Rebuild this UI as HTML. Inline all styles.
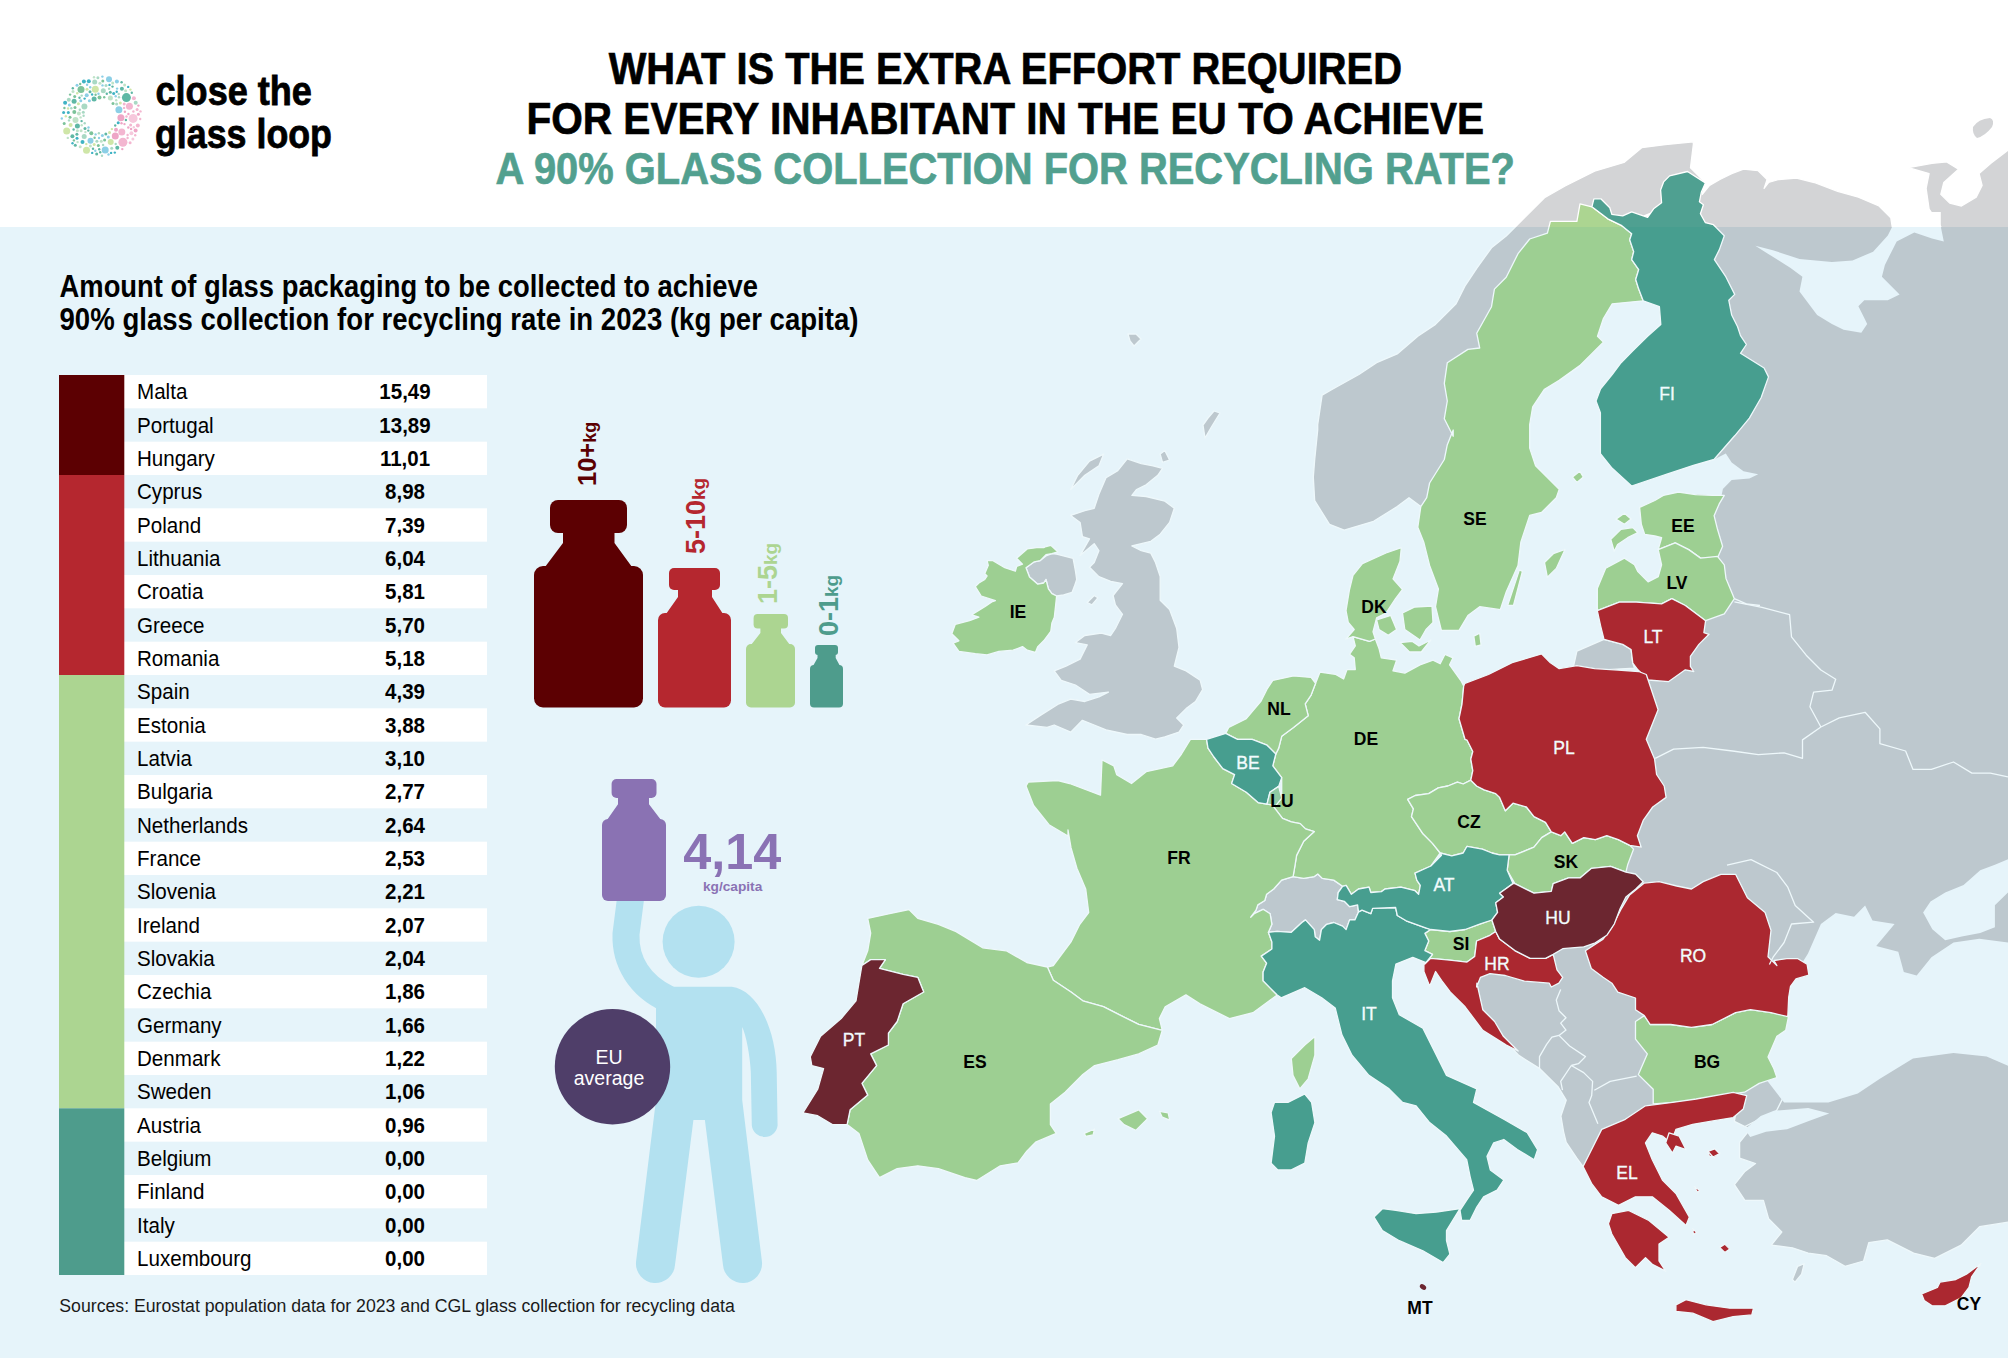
<!DOCTYPE html>
<html><head><meta charset="utf-8"><title>Close the glass loop</title>
<style>
html,body{margin:0;padding:0}
body{width:2008px;height:1358px;position:relative;overflow:hidden;background:#e6f4fa;font-family:"Liberation Sans",sans-serif}
svg{position:absolute;left:0;top:0}
text{font-family:"Liberation Sans",sans-serif}
.lb{font-size:17.5px;font-weight:bold;fill:#000;text-anchor:middle}
.lw{font-size:17.5px;fill:#f2fbfd;stroke:#f2fbfd;stroke-width:0.35px;text-anchor:middle}
</style></head><body>
<svg width="2008" height="1358" viewBox="0 0 2008 1358">
<defs><path id="GRAY" d="M1420.8 506.6 L1409.0 497.7 L1397.2 506.6 L1373.6 521.3 L1344.2 530.1 L1329.5 524.3 L1314.7 500.7 L1313.3 477.1 L1314.7 459.5 L1317.7 430.0 L1317.7 424.6 L1322.1 395.1 L1332.4 389.2 L1358.9 374.5 L1376.6 362.7 L1397.2 353.9 L1417.8 336.2 L1435.5 324.4 L1456.1 303.8 L1464.9 286.1 L1476.7 268.4 L1491.5 247.8 L1506.2 236.0 L1523.9 218.4 L1544.5 197.7 L1565.1 186.0 L1594.6 171.2 L1624.0 162.4 L1641.7 147.7 L1665.2 144.7 L1693.2 141.8 L1693.4 144.2 L1690.5 167.7 L1705.2 182.5 L1702.3 194.3 L1709.6 185.4 L1719.9 179.5 L1731.7 173.6 L1743.5 169.2 L1758.2 170.7 L1767.1 179.5 L1764.1 188.4 L1768.5 182.5 L1778.8 179.5 L1796.5 178.1 L1814.2 182.5 L1837.7 191.3 L1858.4 197.2 L1879.0 206.0 L1890.8 217.8 L1892.2 226.7 L1940.8 226.7 L1929.1 209.0 L1926.1 188.4 L1929.1 173.6 L1908.4 167.7 L1932.0 163.3 L1946.7 161.9 L1958.5 169.2 L1943.8 182.5 L1940.8 194.3 L1949.7 203.1 L1961.5 206.0 L1976.2 197.2 L1982.1 185.4 L1979.1 173.6 L1990.9 163.3 L2008.0 150.1 L2015.0 150.0 L2015.0 1221.0 L1979.6 1226.7 L1961.1 1245.2 L1934.7 1258.4 L1913.6 1253.1 L1887.3 1239.9 L1868.8 1242.6 L1863.6 1261.0 L1845.1 1266.3 L1826.6 1255.7 L1808.2 1253.1 L1792.4 1247.8 L1771.3 1245.2 L1781.8 1232.0 L1768.6 1218.8 L1763.4 1200.4 L1744.9 1200.4 L1734.4 1184.6 L1744.9 1171.4 L1755.5 1163.5 L1739.6 1158.2 L1739.6 1142.4 L1750.2 1129.2 L1744.9 1126.5 L1734.4 1121.3 L1737.0 1105.5 L1689.5 1110.7 L1640.0 1126.6 L1613.7 1147.7 L1595.2 1163.5 L1584.7 1168.8 L1576.8 1158.2 L1566.2 1142.4 L1563.6 1131.8 L1560.9 1116.0 L1566.2 1100.2 L1558.3 1087.0 L1539.8 1068.6 L1518.8 1055.4 L1509.3 1045.1 L1491.6 1024.5 L1476.9 1003.9 L1471.0 986.2 L1482.8 971.5 L1494.6 944.9 L1558.9 912.5 L1558.9 859.5 L1638.7 695.1 L1653.5 650.9 L1696.4 577.3 L1696.4 518.4 L1696.4 474.2 L1666.9 444.7 L1681.6 306.2 L1675.7 203.1 L1565.1 247.8 L1476.7 395.1 L1447.3 488.9Z"/><path id="KALININGRAD" d="M1573.5 666.4 L1576.9 651.2 L1604.0 639.3 L1622.7 644.4 L1631.1 649.5 L1632.8 663.1 L1634.5 668.1 L1604.0 669.8Z"/><path id="UK" d="M1127.2 458.8 L1141.3 463.6 L1153.1 465.9 L1162.5 468.3 L1157.8 475.3 L1146.1 484.8 L1136.6 489.5 L1131.9 495.4 L1146.1 496.5 L1164.9 501.2 L1174.3 508.3 L1169.6 522.4 L1160.2 534.2 L1150.8 541.3 L1141.3 543.7 L1131.9 546.0 L1141.3 550.7 L1150.8 553.1 L1155.5 562.5 L1160.2 576.6 L1160.2 600.2 L1169.6 609.6 L1176.7 628.5 L1179.0 647.3 L1174.3 666.1 L1186.1 670.9 L1200.2 680.3 L1202.6 689.7 L1195.5 701.5 L1186.1 708.6 L1176.7 718.0 L1183.7 725.0 L1179.0 732.1 L1164.9 736.8 L1155.5 739.2 L1141.3 734.5 L1127.2 734.5 L1106.0 729.8 L1094.2 725.0 L1082.4 720.3 L1070.7 732.1 L1054.2 725.0 L1047.1 727.4 L1025.9 725.0 L1040.0 715.6 L1058.9 703.8 L1070.7 699.1 L1084.8 701.5 L1098.9 696.8 L1108.4 692.1 L1089.5 694.4 L1075.4 685.0 L1061.2 680.3 L1054.2 670.9 L1066.0 666.1 L1080.1 659.1 L1087.2 644.9 L1075.4 642.6 L1084.8 635.5 L1101.3 633.2 L1110.7 635.5 L1115.4 628.5 L1122.5 614.3 L1115.4 604.9 L1113.1 595.5 L1122.5 583.7 L1110.7 581.3 L1098.9 576.6 L1089.5 567.2 L1094.2 562.5 L1098.9 550.7 L1094.2 543.7 L1080.1 555.4 L1089.5 538.9 L1082.4 536.6 L1080.1 522.4 L1070.7 515.4 L1084.8 510.7 L1094.2 508.3 L1098.9 494.2 L1106.0 477.7 L1117.8 470.6Z"/><path id="HEBRIDES" d="M1070.7 489.5 L1077.7 475.3 L1089.5 461.2 L1103.7 454.1 L1098.9 465.9 L1084.8 475.3Z"/><path id="NI" d="M1026.0 567.7 L1034.3 561.8 L1040.2 560.6 L1046.0 555.9 L1051.9 553.6 L1056.6 554.2 L1073.1 558.3 L1075.5 571.2 L1076.7 579.5 L1074.3 586.6 L1072.0 592.4 L1063.7 594.8 L1056.6 596.0 L1051.9 593.6 L1048.4 588.9 L1046.0 579.5 L1043.7 583.0 L1037.8 584.2 L1029.5 577.1Z"/><path id="FAROE" d="M1128.0 334.0 L1136.0 334.0 L1141.0 339.0 L1134.0 346.0 L1130.0 341.0Z"/><path id="SHETLAND" d="M1214.0 411.0 L1220.0 413.0 L1212.0 426.0 L1205.0 438.0 L1203.0 425.0 L1208.0 418.0Z"/><path id="ORKNEY" d="M1160.2 454.1 L1164.9 450.6 L1169.6 460.0 L1162.5 462.4Z"/><path id="CH" d="M1268.4 932.3 L1271.9 924.3 L1270.1 913.7 L1263.1 909.3 L1254.2 913.7 L1250.7 917.2 L1256.0 910.2 L1257.8 904.9 L1264.8 900.5 L1266.6 894.3 L1273.7 889.0 L1281.6 880.1 L1293.1 876.6 L1303.7 878.4 L1314.3 876.6 L1317.8 874.0 L1322.3 878.4 L1333.7 880.1 L1342.6 886.3 L1338.2 892.5 L1337.3 899.6 L1344.3 901.3 L1349.6 906.6 L1357.6 904.9 L1358.5 911.9 L1354.9 919.9 L1349.6 919.9 L1346.1 929.6 L1342.6 926.1 L1333.7 922.5 L1326.7 924.3 L1321.4 929.6 L1319.6 940.2 L1315.2 936.7 L1314.3 929.6 L1305.5 919.9 L1301.9 922.5 L1291.3 932.3 L1277.2 931.4Z"/><path id="TURKEY_EU" d="M1739.6 1079.1 L1779.2 1076.5 L1787.1 1089.6 L1776.5 1110.7 L1744.9 1126.5 L1734.4 1121.3 L1737.0 1105.5Z"/><path id="WHITESEA" d="M1755.3 245.8 L1772.9 250.2 L1799.5 259.1 L1831.9 262.0 L1852.5 260.5 L1873.1 251.7 L1887.8 235.5 L1892.2 226.7 L1892.2 211.9 L1940.8 211.9 L1940.8 226.7 L1943.8 241.4 L1932.0 238.4 L1914.3 232.5 L1896.7 241.4 L1884.9 264.9 L1881.9 276.7 L1899.6 294.4 L1887.8 300.3 L1864.3 300.3 L1858.4 306.2 L1864.3 318.0 L1867.2 323.9 L1861.3 332.7 L1843.6 329.7 L1831.9 323.9 L1817.1 315.0 L1808.3 303.2 L1799.5 291.5 L1802.4 276.7 L1790.6 267.9 L1767.1 253.2Z"/><path id="GULFFIN" d="M1681.6 469.8 L1693.4 465.3 L1714.0 459.5 L1725.8 453.6 L1731.7 462.4 L1743.5 471.2 L1758.2 474.2 L1749.4 478.6 L1731.7 480.1 L1722.9 488.9 L1721.4 496.3 L1705.2 494.8 L1684.6 493.3 L1678.7 496.3Z"/><path id="BLACKSEA" d="M1808.0 953.5 L1820.9 924.0 L1835.7 913.0 L1854.1 916.7 L1865.1 905.6 L1872.5 920.4 L1894.6 924.0 L1876.2 946.1 L1898.3 951.7 L1903.8 971.9 L1916.7 975.6 L1931.4 957.2 L1953.5 942.5 L1979.3 938.8 L2008.0 942.5 L2008.0 1065.8 L1986.6 1056.6 L1953.5 1052.9 L1913.0 1058.4 L1879.9 1078.7 L1857.8 1093.4 L1828.3 1102.6 L1784.1 1102.6 L1765.7 1078.7 L1769.4 1041.9 L1780.4 1016.1 L1784.1 990.3 L1798.8 968.2Z"/><path id="AZOV" d="M1923.1 912.6 L1930.5 901.6 L1945.2 892.4 L1963.6 885.0 L1980.2 870.3 L1994.9 864.7 L2008.0 859.2 L2008.0 892.4 L1994.9 905.2 L1994.9 927.3 L1980.2 932.9 L1961.8 936.6 L1945.2 940.2 L1932.3 929.2Z"/><path id="MARMARA" d="M1744.9 1129.2 L1760.7 1116.0 L1773.9 1110.7 L1808.2 1108.1 L1829.3 1113.4 L1808.2 1121.3 L1787.1 1129.2 L1766.0 1131.8 L1750.2 1137.1Z"/><path id="FI" d="M1593.9 198.8 L1600.8 198.8 L1609.8 207.8 L1611.8 214.3 L1622.7 215.8 L1631.7 211.8 L1647.6 217.3 L1653.6 208.8 L1661.6 202.8 L1660.6 189.9 L1663.6 181.9 L1669.6 175.9 L1687.5 171.5 L1705.4 182.9 L1701.4 191.9 L1699.4 201.8 L1703.4 204.8 L1700.4 213.8 L1705.4 222.7 L1713.4 224.7 L1724.3 235.7 L1719.4 249.6 L1714.4 259.6 L1725.8 276.7 L1734.7 294.4 L1728.8 300.3 L1731.7 315.0 L1737.6 326.8 L1740.5 335.6 L1746.4 344.5 L1740.5 353.3 L1764.1 368.0 L1768.5 376.9 L1761.2 397.5 L1749.4 418.1 L1734.7 435.8 L1714.0 459.5 L1693.4 465.3 L1666.9 474.2 L1631.6 486.0 L1612.2 468.3 L1600.4 453.6 L1600.4 436.3 L1600.4 412.8 L1596.0 401.0 L1600.4 389.2 L1612.2 374.5 L1621.1 362.7 L1632.8 350.9 L1647.6 336.2 L1660.8 324.4 L1659.4 306.7 L1643.2 300.8 L1638.7 289.1 L1635.7 279.5 L1638.7 269.6 L1631.7 259.6 L1633.7 251.6 L1629.7 239.7 L1631.7 233.7 L1621.8 225.7 L1607.8 218.8 L1591.9 206.8Z"/><path id="SE" d="M1580.0 203.8 L1591.9 206.8 L1607.8 218.8 L1621.8 225.7 L1631.7 233.7 L1629.7 239.7 L1633.7 251.6 L1631.7 259.6 L1638.7 269.6 L1635.7 279.5 L1638.7 289.1 L1643.2 300.8 L1612.2 303.8 L1603.4 318.5 L1597.5 336.2 L1603.4 342.1 L1591.6 353.9 L1579.8 365.6 L1559.2 380.4 L1544.5 389.2 L1532.7 406.9 L1529.7 424.6 L1529.7 448.1 L1535.6 465.8 L1547.4 477.6 L1559.2 489.4 L1556.3 497.7 L1541.5 512.5 L1529.7 515.4 L1520.9 541.9 L1518.0 565.5 L1506.2 592.0 L1500.3 609.7 L1479.7 606.7 L1467.9 615.6 L1459.1 630.3 L1441.4 630.3 L1435.5 606.7 L1438.4 589.1 L1429.6 565.5 L1423.7 541.9 L1417.8 527.2 L1420.8 506.6 L1426.7 497.7 L1429.6 483.0 L1444.3 459.5 L1447.3 444.7 L1453.2 430.0 L1453.2 436.3 L1444.3 418.7 L1447.3 401.0 L1444.3 383.3 L1447.3 362.7 L1467.9 349.4 L1479.7 348.0 L1476.7 333.2 L1491.5 306.7 L1494.4 289.1 L1506.2 277.3 L1518.0 253.7 L1529.7 239.0 L1547.4 233.1 L1550.4 221.3 L1576.9 221.3Z"/><path id="GOTLAND" d="M1544.5 562.5 L1553.3 553.7 L1565.1 549.3 L1556.3 568.4 L1547.4 577.3Z"/><path id="OLAND" d="M1507.7 605.3 L1519.4 569.9 L1522.4 571.4 L1513.5 605.3Z"/><path id="ALAND" d="M1572.5 477.1 L1579.8 471.2 L1583.4 477.1 L1576.9 482.4Z"/><path id="EE" d="M1639.6 507.3 L1654.8 500.5 L1663.3 495.4 L1678.5 492.0 L1695.5 494.6 L1712.4 495.4 L1724.3 495.4 L1719.2 503.9 L1714.1 515.7 L1717.5 529.3 L1722.6 546.2 L1717.5 558.1 L1700.6 558.1 L1688.7 549.6 L1675.2 542.8 L1658.2 549.6 L1661.6 537.7 L1654.8 536.0 L1644.7 534.4 L1641.3 524.2Z"/><path id="SAAREMAA" d="M1610.8 539.4 L1621.0 529.3 L1632.8 527.6 L1637.9 532.7 L1627.7 537.7 L1617.6 544.5 L1614.2 551.3Z"/><path id="HIIUMAA" d="M1615.9 519.1 L1624.4 513.2 L1631.1 519.1 L1624.4 524.2Z"/><path id="LV" d="M1597.3 610.6 L1597.3 588.5 L1605.7 568.2 L1624.4 558.1 L1634.5 564.8 L1637.9 571.6 L1648.1 581.8 L1658.2 576.7 L1661.6 564.8 L1658.2 549.6 L1675.2 542.8 L1688.7 549.6 L1700.6 558.1 L1717.5 556.4 L1724.3 564.8 L1726.0 578.4 L1734.4 598.7 L1724.3 613.9 L1705.6 620.7 L1685.3 605.5 L1671.8 598.7 L1661.6 603.8 L1636.2 602.1 L1619.3 602.1Z"/><path id="LT" d="M1597.3 610.6 L1619.3 602.1 L1636.2 602.1 L1661.6 603.8 L1671.8 598.7 L1685.3 605.5 L1705.6 620.7 L1703.9 632.6 L1709.0 634.3 L1698.9 644.4 L1690.4 656.3 L1690.4 666.4 L1693.8 671.5 L1685.3 669.8 L1668.4 681.7 L1648.1 680.0 L1637.9 669.8 L1632.8 663.1 L1631.1 649.5 L1622.7 644.4 L1604.0 639.3 L1600.6 625.8Z"/><path id="PL" d="M1464.9 683.3 L1488.5 674.5 L1512.1 662.7 L1541.5 653.9 L1550.4 662.7 L1559.2 668.6 L1576.9 665.6 L1594.6 668.6 L1618.1 670.1 L1638.7 671.5 L1646.3 674.5 L1658.1 709.8 L1646.3 739.3 L1654.6 759.1 L1656.6 774.5 L1664.2 786.0 L1666.1 797.4 L1652.7 807.0 L1643.2 820.4 L1637.4 835.7 L1641.2 847.2 L1629.8 845.3 L1618.3 839.6 L1606.8 835.7 L1595.3 839.6 L1583.8 837.6 L1572.3 843.4 L1564.7 831.9 L1560.8 835.7 L1551.3 831.9 L1545.5 822.3 L1534.0 816.6 L1526.4 807.0 L1513.0 803.2 L1505.3 810.8 L1499.6 797.4 L1495.7 793.6 L1484.2 789.8 L1476.6 786.0 L1470.8 780.2 L1472.8 770.6 L1470.8 759.1 L1472.8 751.5 L1467.0 740.0 L1465.0 739.3 L1459.0 718.7 L1462.0 704.0 L1463.7 686.0Z"/><path id="DE" d="M1315.6 683.3 L1320.0 672.0 L1335.3 674.3 L1343.6 679.0 L1347.0 669.6 L1355.3 669.6 L1354.2 657.8 L1349.5 654.3 L1355.3 646.0 L1353.0 636.6 L1369.5 641.3 L1375.4 639.0 L1379.0 648.4 L1381.3 657.8 L1396.6 660.2 L1393.0 670.8 L1404.8 673.1 L1420.0 664.9 L1433.0 660.2 L1440.2 663.7 L1445.0 654.3 L1453.0 657.8 L1449.6 664.9 L1455.5 673.1 L1461.4 681.4 L1463.7 686.0 L1463.7 686.0 L1462.0 704.0 L1459.0 718.7 L1465.0 739.3 L1467.0 740.0 L1472.8 751.5 L1470.8 759.1 L1472.8 770.6 L1470.8 780.2 L1463.2 784.0 L1457.4 782.1 L1447.9 786.0 L1438.3 787.9 L1428.7 793.6 L1415.3 795.5 L1407.7 799.4 L1413.4 808.9 L1411.5 816.6 L1423.0 833.8 L1432.5 843.4 L1440.2 853.0 L1430.9 866.0 L1415.0 873.1 L1416.8 880.1 L1420.3 885.4 L1418.6 894.3 L1415.0 890.7 L1400.9 887.2 L1385.0 889.0 L1381.4 891.6 L1370.8 892.5 L1369.1 887.2 L1358.5 889.0 L1351.4 894.3 L1346.1 885.4 L1342.6 886.3 L1333.7 880.1 L1322.3 878.4 L1317.8 874.0 L1314.3 876.6 L1303.7 878.4 L1293.1 876.6 L1294.9 866.0 L1296.6 855.4 L1303.7 841.3 L1314.3 831.6 L1305.5 828.9 L1300.2 823.6 L1291.3 821.8 L1282.5 818.3 L1273.7 806.8 L1281.7 798.2 L1281.7 777.6 L1272.8 765.8 L1275.8 754.0 L1278.7 748.1 L1281.7 736.3 L1293.5 727.5 L1308.2 715.7 L1305.2 703.9 L1311.1 695.1Z"/><path id="DK" d="M1401.3 547.7 L1400.0 561.2 L1393.0 578.9 L1402.5 589.5 L1395.4 598.9 L1386.0 613.0 L1376.6 617.8 L1373.0 631.9 L1375.4 639.0 L1369.5 641.3 L1353.0 636.6 L1346.0 639.0 L1354.2 629.5 L1348.3 622.5 L1346.0 610.7 L1349.5 589.5 L1353.0 575.3 L1362.4 563.6 L1386.0 553.0Z"/><path id="ZEALAND" d="M1402.5 613.0 L1414.3 607.2 L1432.0 606.0 L1433.0 622.5 L1426.0 629.5 L1420.0 640.0 L1404.8 629.5Z"/><path id="FUNEN" d="M1376.6 620.0 L1390.7 615.4 L1396.6 629.5 L1388.3 635.4 L1379.0 629.5Z"/><path id="LOLLAND" d="M1400.0 642.5 L1412.0 641.3 L1419.0 646.0 L1430.8 640.0 L1421.3 652.0 L1409.5 652.0Z"/><path id="BORNHOLM" d="M1473.8 636.2 L1479.7 633.2 L1481.1 645.0 L1475.3 646.5Z"/><path id="NL" d="M1267.0 689.2 L1272.8 680.4 L1293.5 675.9 L1311.1 677.4 L1315.6 683.3 L1311.1 695.1 L1305.2 703.9 L1308.2 715.7 L1293.5 727.5 L1281.7 736.3 L1278.7 748.1 L1275.8 754.0 L1267.0 745.2 L1252.2 739.3 L1237.5 739.3 L1225.7 733.4 L1228.7 727.5 L1246.3 718.7 L1261.1 701.0Z"/><path id="BE" d="M1206.6 739.3 L1225.7 733.4 L1237.5 739.3 L1252.2 739.3 L1267.0 745.2 L1275.8 754.0 L1272.8 765.8 L1281.7 777.6 L1278.7 786.4 L1269.9 792.3 L1267.0 804.1 L1258.1 802.6 L1246.3 792.3 L1231.6 783.5 L1234.6 774.6 L1222.8 768.7 L1213.9 757.0 L1208.0 748.1Z"/><path id="LU" d="M1269.9 792.3 L1278.7 786.4 L1281.7 798.2 L1275.8 805.6 L1267.0 804.1Z"/><path id="FR" d="M1206.6 739.3 L1208.0 748.1 L1213.9 757.0 L1222.8 768.7 L1234.6 774.6 L1231.6 783.5 L1246.3 792.3 L1258.1 802.6 L1267.0 804.1 L1275.8 805.6 L1273.7 806.8 L1282.5 818.3 L1291.3 821.8 L1300.2 823.6 L1305.5 828.9 L1314.3 831.6 L1303.7 841.3 L1296.6 855.4 L1294.9 866.0 L1293.1 876.6 L1281.6 880.1 L1273.7 889.0 L1266.6 894.3 L1264.8 900.5 L1257.8 904.9 L1256.0 910.2 L1250.7 917.2 L1254.2 913.7 L1263.1 909.3 L1270.1 913.7 L1271.9 924.3 L1268.4 932.3 L1271.9 942.0 L1271.9 949.0 L1261.3 956.1 L1266.6 963.2 L1263.1 972.0 L1263.1 980.8 L1270.1 987.9 L1277.2 995.0 L1253.0 1012.7 L1229.5 1018.6 L1200.0 1003.9 L1185.9 994.9 L1165.2 1006.7 L1159.4 1018.5 L1162.3 1030.3 L1138.7 1024.4 L1121.1 1015.6 L1103.4 1006.7 L1082.8 1000.8 L1071.0 992.0 L1053.3 980.2 L1047.4 967.0 L1053.3 965.5 L1071.0 941.9 L1079.8 924.3 L1088.7 912.5 L1085.7 888.9 L1076.9 868.3 L1071.0 847.7 L1068.0 830.0 L1068.0 836.0 L1049.0 824.7 L1033.6 805.5 L1026.0 786.0 L1028.4 782.0 L1057.8 780.5 L1069.6 783.5 L1100.5 795.2 L1102.0 759.9 L1113.8 765.8 L1116.7 774.6 L1131.5 783.5 L1146.2 771.7 L1172.7 765.8 L1181.5 754.0 L1190.4 739.3Z"/><path id="ES" d="M867.7 918.4 L888.4 913.9 L909.0 909.5 L917.8 918.4 L938.4 924.3 L956.1 931.6 L982.6 947.8 L1006.2 950.8 L1026.8 962.5 L1047.4 967.0 L1053.3 980.2 L1071.0 992.0 L1082.8 1000.8 L1103.4 1006.7 L1121.1 1015.6 L1138.7 1024.4 L1162.3 1030.3 L1157.9 1045.0 L1138.7 1053.9 L1118.1 1059.7 L1094.6 1065.6 L1082.8 1074.5 L1065.1 1092.2 L1050.4 1103.9 L1050.4 1124.6 L1056.3 1133.4 L1035.6 1142.2 L1026.8 1151.1 L1018.0 1162.8 L1000.3 1165.8 L976.7 1180.5 L964.9 1177.6 L938.4 1168.7 L917.8 1165.8 L897.2 1168.7 L879.5 1177.6 L867.7 1159.9 L858.9 1133.4 L847.1 1124.6 L850.1 1109.8 L867.7 1095.1 L861.9 1083.3 L876.6 1065.6 L870.7 1053.9 L888.4 1045.0 L888.4 1033.2 L897.2 1021.5 L903.1 1003.8 L923.7 992.0 L917.8 977.3 L903.1 974.3 L879.5 968.4 L885.4 959.6 L870.7 959.6 L861.9 965.5 L867.7 950.8 L870.7 933.1Z"/><path id="PT" d="M861.9 965.5 L870.7 959.6 L885.4 959.6 L879.5 968.4 L903.1 974.3 L917.8 977.3 L923.7 992.0 L903.1 1003.8 L897.2 1021.5 L888.4 1033.2 L888.4 1045.0 L870.7 1053.9 L876.6 1065.6 L861.9 1083.3 L867.7 1095.1 L850.1 1109.8 L847.1 1124.6 L832.4 1124.6 L817.7 1115.7 L802.9 1112.8 L817.7 1089.2 L823.6 1068.6 L811.8 1065.6 L810.3 1056.8 L820.6 1036.2 L841.2 1018.5 L856.0 1000.8 L858.9 983.2Z"/><path id="MALLORCA" d="M1118.1 1118.7 L1138.7 1109.8 L1147.6 1118.7 L1135.8 1130.4 L1124.0 1124.6Z"/><path id="MENORCA" d="M1159.4 1111.3 L1168.2 1112.8 L1169.7 1120.1 L1162.3 1117.2Z"/><path id="IBIZA" d="M1084.2 1133.4 L1094.6 1129.0 L1093.1 1134.9 L1085.7 1136.3Z"/><path id="IE" d="M1016.6 558.3 L1027.2 548.9 L1036.6 547.7 L1043.7 547.7 L1046.0 546.5 L1050.8 545.3 L1057.8 551.8 L1051.9 553.6 L1046.0 554.7 L1040.2 560.6 L1034.3 561.8 L1026.0 567.7 L1029.5 577.1 L1037.8 584.2 L1043.7 583.0 L1046.0 579.5 L1048.4 588.9 L1051.9 593.6 L1056.6 596.0 L1055.5 606.6 L1054.3 617.2 L1051.9 623.1 L1050.8 631.3 L1043.7 640.8 L1037.8 646.6 L1035.4 652.5 L1027.2 650.2 L1022.5 646.6 L1013.1 650.2 L998.9 651.4 L987.1 654.9 L975.3 653.7 L958.9 651.4 L953.0 643.1 L958.9 640.8 L951.8 633.7 L955.3 624.3 L969.5 620.7 L978.9 617.2 L971.8 614.8 L984.8 606.6 L991.8 601.9 L995.4 600.7 L981.2 596.0 L975.3 586.6 L978.9 583.0 L984.8 579.5 L987.1 576.0 L984.8 573.6 L988.3 565.3 L987.1 560.6 L993.0 560.6 L1004.8 567.7 L1015.4 571.2 L1016.6 566.5 L1022.5 564.2Z"/><path id="IT" d="M1277.2 995.0 L1270.1 987.9 L1263.1 980.8 L1263.1 972.0 L1266.6 963.2 L1261.3 956.1 L1271.9 949.0 L1271.9 942.0 L1268.4 932.3 L1277.2 931.4 L1291.3 932.3 L1301.9 922.5 L1305.5 919.9 L1314.3 929.6 L1315.2 936.7 L1319.6 940.2 L1321.4 929.6 L1326.7 924.3 L1333.7 922.5 L1342.6 926.1 L1346.1 929.6 L1349.6 919.9 L1354.9 919.9 L1358.5 911.9 L1362.0 910.2 L1370.8 913.7 L1372.6 908.4 L1395.6 907.5 L1397.3 915.5 L1406.2 920.8 L1425.6 927.8 L1430.6 929.5 L1424.9 933.4 L1428.7 941.0 L1424.9 950.6 L1432.5 954.4 L1424.9 964.0 L1429.6 964.1 L1412.8 957.3 L1395.9 964.1 L1392.5 981.0 L1392.5 997.8 L1399.3 1014.7 L1422.9 1028.2 L1436.4 1055.2 L1446.5 1075.4 L1476.8 1088.9 L1473.5 1102.4 L1503.8 1119.3 L1527.4 1132.8 L1537.6 1149.6 L1534.2 1159.7 L1517.3 1149.6 L1503.8 1139.5 L1493.7 1142.9 L1487.0 1156.4 L1490.3 1169.9 L1503.8 1180.0 L1497.1 1190.1 L1483.6 1196.8 L1476.8 1207.0 L1470.1 1220.5 L1461.7 1220.5 L1460.0 1210.3 L1466.7 1200.2 L1473.5 1190.1 L1470.1 1176.6 L1466.7 1159.7 L1446.5 1136.1 L1429.6 1122.6 L1416.1 1105.8 L1402.6 1102.4 L1389.1 1088.9 L1368.9 1075.4 L1352.0 1055.2 L1341.9 1034.9 L1335.2 1007.9 L1321.7 997.8 L1304.8 987.7 L1281.2 997.8Z"/><path id="SARDINIA" d="M1274.5 1102.4 L1287.9 1102.4 L1304.8 1094.0 L1311.6 1102.4 L1314.9 1122.6 L1308.2 1142.9 L1304.8 1163.1 L1291.3 1169.9 L1277.8 1169.9 L1271.1 1163.1 L1274.5 1136.1 L1271.1 1112.5Z"/><path id="CORSICA" d="M1291.3 1058.5 L1304.8 1045.0 L1314.9 1036.6 L1314.9 1055.2 L1308.2 1078.8 L1299.8 1088.9 L1293.0 1075.4Z"/><path id="SICILY" d="M1374.0 1217.1 L1382.4 1208.7 L1395.9 1210.3 L1416.1 1213.7 L1436.4 1212.0 L1460.0 1208.7 L1446.5 1230.6 L1446.5 1240.7 L1449.9 1254.2 L1443.1 1262.6 L1422.9 1250.8 L1399.3 1240.7 L1382.4 1230.6Z"/><path id="AT" d="M1342.6 886.3 L1346.1 885.4 L1351.4 894.3 L1358.5 889.0 L1369.1 887.2 L1370.8 892.5 L1381.4 891.6 L1385.0 889.0 L1400.9 887.2 L1415.0 890.7 L1418.6 894.3 L1420.3 885.4 L1416.8 880.1 L1415.0 873.1 L1430.9 866.0 L1441.5 855.4 L1440.2 853.0 L1451.7 855.8 L1463.2 853.0 L1467.0 846.3 L1482.3 849.1 L1491.9 853.0 L1499.6 854.9 L1509.1 854.9 L1507.2 870.2 L1513.0 883.6 L1499.6 893.2 L1503.4 897.0 L1495.7 902.7 L1497.6 912.3 L1491.9 920.0 L1480.4 923.8 L1465.1 929.5 L1449.8 931.5 L1430.6 929.5 L1425.6 927.8 L1406.2 920.8 L1397.3 915.5 L1395.6 907.5 L1372.6 908.4 L1370.8 913.7 L1362.0 910.2 L1358.5 911.9 L1357.6 904.9 L1349.6 906.6 L1344.3 901.3 L1337.3 899.6 L1338.2 892.5Z"/><path id="CZ" d="M1407.7 799.4 L1415.3 795.5 L1428.7 793.6 L1438.3 787.9 L1447.9 786.0 L1457.4 782.1 L1463.2 784.0 L1470.8 780.2 L1476.6 786.0 L1484.2 789.8 L1495.7 793.6 L1499.6 797.4 L1505.3 810.8 L1513.0 803.2 L1526.4 807.0 L1534.0 816.6 L1545.5 822.3 L1551.3 831.9 L1541.7 837.6 L1534.0 847.2 L1514.9 854.9 L1509.1 854.9 L1499.6 854.9 L1491.9 853.0 L1482.3 849.1 L1467.0 846.3 L1463.2 853.0 L1451.7 855.8 L1440.2 853.0 L1432.5 843.4 L1423.0 833.8 L1411.5 816.6 L1413.4 808.9Z"/><path id="SK" d="M1509.1 854.9 L1514.9 854.9 L1534.0 847.2 L1541.7 837.6 L1551.3 831.9 L1560.8 835.7 L1564.7 831.9 L1572.3 843.4 L1583.8 837.6 L1595.3 839.6 L1606.8 835.7 L1618.3 839.6 L1629.8 845.3 L1633.6 849.1 L1627.8 864.4 L1625.9 872.1 L1610.6 866.4 L1591.5 868.3 L1580.0 877.9 L1568.5 877.9 L1553.2 883.6 L1551.3 891.3 L1534.0 893.2 L1514.9 883.6 L1507.2 870.2Z"/><path id="HU" d="M1514.9 883.6 L1534.0 893.2 L1551.3 891.3 L1553.2 883.6 L1568.5 877.9 L1580.0 877.9 L1591.5 868.3 L1610.6 866.4 L1625.9 872.1 L1635.5 874.0 L1643.2 881.7 L1635.5 889.3 L1625.9 897.0 L1620.2 908.5 L1614.4 923.8 L1606.8 935.3 L1595.3 942.9 L1583.8 946.8 L1562.7 948.7 L1553.2 954.4 L1545.5 958.3 L1530.2 958.3 L1514.9 950.6 L1499.6 939.1 L1495.7 931.5 L1493.8 925.7 L1491.9 920.0 L1497.6 912.3 L1495.7 902.7 L1503.4 897.0 L1499.6 893.2 L1513.0 883.6Z"/><path id="SI" d="M1430.6 929.5 L1449.8 931.5 L1465.1 929.5 L1480.4 923.8 L1491.9 920.0 L1493.8 925.7 L1495.7 931.5 L1490.0 935.3 L1476.6 941.0 L1474.7 956.4 L1467.0 962.1 L1449.8 960.2 L1430.6 958.3 L1424.9 964.0 L1432.5 954.4 L1424.9 950.6 L1428.7 941.0 L1424.9 933.4Z"/><path id="HR" d="M1424.9 964.0 L1430.6 958.3 L1449.8 960.2 L1467.0 962.1 L1474.7 956.4 L1476.6 941.0 L1490.0 935.3 L1495.7 931.5 L1499.6 939.1 L1514.9 950.6 L1530.2 958.3 L1545.5 958.3 L1553.2 954.4 L1557.0 969.8 L1562.7 977.4 L1558.9 983.2 L1551.3 987.0 L1549.3 983.2 L1524.4 981.2 L1505.3 975.5 L1490.0 973.6 L1480.4 977.4 L1476.6 987.0 L1476.9 983.2 L1482.8 1009.7 L1494.6 1021.5 L1503.4 1036.3 L1518.1 1051.0 L1506.3 1045.1 L1482.8 1030.4 L1465.1 1006.8 L1450.4 992.1 L1441.5 980.3 L1435.6 971.5 L1429.7 986.2 L1423.9 971.5 L1423.9 962.6Z"/><path id="RO" d="M1644.3 883.1 L1659.1 881.6 L1676.7 886.0 L1691.5 889.0 L1703.2 881.6 L1720.9 874.3 L1735.6 874.3 L1747.4 897.8 L1765.1 912.5 L1771.0 930.2 L1768.0 956.7 L1776.9 965.6 L1773.9 960.5 L1786.8 958.7 L1797.9 958.7 L1807.1 964.2 L1808.9 975.2 L1796.0 978.9 L1790.5 986.3 L1788.7 997.3 L1787.8 1016.7 L1771.0 1012.7 L1750.4 1009.7 L1735.6 1012.7 L1712.1 1024.5 L1691.5 1027.4 L1670.8 1024.5 L1650.2 1024.5 L1644.3 1015.6 L1635.5 1009.7 L1635.5 998.0 L1617.8 992.1 L1611.9 983.2 L1603.1 977.3 L1591.3 968.5 L1585.4 950.8 L1603.1 939.1 L1611.9 927.3 L1620.8 909.6 L1629.6 894.9Z"/><path id="BG" d="M1644.3 1015.6 L1650.2 1024.5 L1670.8 1024.5 L1691.5 1027.4 L1712.1 1024.5 L1735.6 1012.7 L1750.4 1009.7 L1771.0 1012.7 L1788.7 1015.6 L1785.7 1030.4 L1776.9 1036.3 L1768.0 1056.9 L1773.9 1068.7 L1776.9 1077.5 L1759.2 1083.4 L1744.5 1092.2 L1723.9 1095.2 L1712.1 1101.1 L1691.5 1101.1 L1653.2 1104.0 L1653.2 1089.3 L1638.4 1074.6 L1647.3 1053.9 L1635.5 1039.2 L1635.5 1021.5Z"/><path id="EL" d="M1583.1 1166.5 L1601.7 1129.4 L1625.3 1119.3 L1645.5 1105.8 L1672.5 1102.4 L1696.1 1099.0 L1733.2 1092.3 L1746.7 1095.6 L1743.3 1109.1 L1733.2 1117.6 L1713.0 1120.9 L1692.7 1124.3 L1675.9 1129.4 L1670.8 1142.9 L1662.4 1136.1 L1652.3 1132.8 L1645.5 1142.9 L1652.3 1159.7 L1662.4 1180.0 L1675.9 1193.5 L1689.4 1217.1 L1686.0 1225.5 L1669.1 1210.3 L1652.3 1196.8 L1635.4 1196.8 L1618.5 1205.3 L1601.7 1196.8 L1591.5 1183.4Z"/><path id="PELOP" d="M1611.8 1213.7 L1628.6 1210.3 L1648.9 1220.5 L1669.1 1237.3 L1659.0 1244.1 L1659.0 1260.9 L1665.7 1271.1 L1652.3 1264.3 L1645.5 1257.6 L1635.4 1267.7 L1625.3 1257.6 L1611.8 1234.0 L1608.4 1223.8Z"/><path id="CRETE" d="M1675.9 1304.8 L1686.0 1299.7 L1706.2 1304.8 L1729.8 1308.2 L1753.5 1308.2 L1751.8 1314.9 L1733.2 1316.6 L1713.0 1321.7 L1692.7 1313.2 L1675.9 1311.5Z"/><path id="CY" d="M1921.6 1294.0 L1937.4 1287.4 L1940.0 1282.1 L1955.8 1279.5 L1966.4 1274.2 L1980.9 1263.6 L1971.6 1276.8 L1969.0 1287.4 L1961.1 1297.9 L1945.3 1305.8 L1932.1 1305.8 L1924.2 1300.6Z"/><path id="LESBOS" d="M1708.0 1151.6 L1714.6 1149.0 L1719.9 1152.9 L1714.6 1157.7 L1709.3 1156.1Z"/><path id="ISL1" d="M1707.9 1151.3 L1714.7 1148.9 L1719.7 1153.7 L1713.0 1157.0Z"/><path id="ISL2" d="M1719.7 1247.4 L1724.8 1244.1 L1729.8 1249.1 L1724.8 1252.5Z"/><path id="ISL3" d="M1694.4 1186.7 L1699.5 1190.1 L1697.8 1192.8Z"/><path id="ISL4" d="M1692.7 1228.9 L1696.8 1232.3 L1693.4 1234.6Z"/><path id="RHODES_G" d="M1792.4 1279.5 L1797.6 1266.3 L1804.2 1263.6 L1801.6 1274.2 L1795.0 1282.1Z"/><path id="CHALK" d="M1669.1 1132.8 L1679.2 1136.1 L1686.0 1149.6 L1675.9 1146.2 L1672.5 1153.0 L1665.7 1142.9Z"/><path id="IOM" d="M1087.2 602.5 L1094.2 595.5 L1097.8 597.8 L1091.9 604.9Z"/>
<clipPath id="hdr"><rect x="0" y="0" width="2008" height="227"/></clipPath>
<clipPath id="bdy"><rect x="0" y="227" width="2008" height="1131"/></clipPath>
</defs>
<rect x="0" y="0" width="2008" height="227" fill="#fff"/>
<g clip-path="url(#hdr)"><g fill="#d3d4d6" stroke="#ffffff" stroke-width="1.3" stroke-linejoin="round"><use href="#GRAY"/></g><g fill="#ffffff" stroke="#ffffff" stroke-width="0" stroke-linejoin="round"><use href="#WHITESEA"/></g><g fill="#acd591" stroke="#ffffff" stroke-width="1.3" stroke-linejoin="round"><use href="#SE"/></g><g fill="#4fa091" stroke="#ffffff" stroke-width="1.3" stroke-linejoin="round"><use href="#FI"/></g><path d="M1973 127 Q1978 119 1990 118 Q1995 120 1992 127 Q1985 136 1977 138 Q1972 134 1973 127Z" fill="#d3d4d6"/></g>
<g clip-path="url(#bdy)"><g fill="#bdc8ce" stroke="#eef8fb" stroke-width="1.3" stroke-linejoin="round"><use href="#GRAY"/><use href="#KALININGRAD"/><use href="#UK"/><use href="#IOM"/><use href="#HEBRIDES"/><use href="#NI"/><use href="#FAROE"/><use href="#SHETLAND"/><use href="#ORKNEY"/><use href="#CH"/><use href="#TURKEY_EU"/><use href="#RHODES_G"/></g><g fill="#e6f4fa" stroke="#eef8fb" stroke-width="0" stroke-linejoin="round"><use href="#WHITESEA"/><use href="#GULFFIN"/><use href="#BLACKSEA"/><use href="#AZOV"/><use href="#MARMARA"/></g><g fill="#9dcf92" stroke="#eef8fb" stroke-width="1.3" stroke-linejoin="round"><use href="#SE"/><use href="#ALAND"/><use href="#GOTLAND"/><use href="#OLAND"/><use href="#EE"/><use href="#SAAREMAA"/><use href="#HIIUMAA"/><use href="#LV"/><use href="#DE"/><use href="#DK"/><use href="#ZEALAND"/><use href="#FUNEN"/><use href="#LOLLAND"/><use href="#BORNHOLM"/><use href="#NL"/><use href="#FR"/><use href="#CORSICA"/><use href="#ES"/><use href="#MALLORCA"/><use href="#MENORCA"/><use href="#IBIZA"/><use href="#IE"/><use href="#CZ"/><use href="#SK"/><use href="#SI"/><use href="#BG"/></g><g fill="#479e8f" stroke="#eef8fb" stroke-width="1.3" stroke-linejoin="round"><use href="#FI"/><use href="#BE"/><use href="#IT"/><use href="#SARDINIA"/><use href="#SICILY"/><use href="#AT"/></g><g fill="#8fcaa4" stroke="#eef8fb" stroke-width="1.3" stroke-linejoin="round"><use href="#LU"/></g><g fill="#ab2830" stroke="#eef8fb" stroke-width="1.3" stroke-linejoin="round"><use href="#LT"/><use href="#PL"/><use href="#HR"/><use href="#RO"/><use href="#EL"/><use href="#CHALK"/><use href="#PELOP"/><use href="#CRETE"/><use href="#CY"/><use href="#LESBOS"/><use href="#ISL1"/><use href="#ISL2"/><use href="#ISL3"/><use href="#ISL4"/></g><g fill="#6c2630" stroke="#eef8fb" stroke-width="1.3" stroke-linejoin="round"><use href="#PT"/><use href="#HU"/></g><g fill="none" stroke="#eef8fb" stroke-width="1.3" stroke-linejoin="round"><path d="M1734.4 601.8 L1762.0 607.4 L1789.6 614.7 L1791.5 636.8 L1806.2 655.2 L1820.9 670.0 L1835.7 679.2 L1832.0 690.2 L1813.6 692.1 L1809.9 706.8 L1820.9 727.0"/><path d="M1655.2 758.3 L1673.6 749.1 L1703.1 747.3 L1732.6 751.0 L1758.3 754.7 L1784.1 752.8 L1802.5 758.3 L1802.5 739.9 L1820.9 727.0"/><path d="M1820.9 727.0 L1839.3 717.8 L1865.1 712.3 L1879.9 728.9 L1879.9 743.6 L1905.6 751.0 L1913.0 769.4 L1931.4 769.4 L1953.5 762.0 L1971.9 773.1 L1990.3 773.1 L2008.0 776.8"/><path d="M1727.0 865.1 L1751.0 859.6 L1776.8 872.5 L1787.8 887.2 L1795.2 905.6 L1813.6 922.2 L1791.5 924.0 L1784.1 942.5 L1773.1 957.2 L1769.4 964.5"/><path d="M1560.7 989.5 L1556.3 1000.1 L1559.0 1010.7 L1566.0 1017.8 L1560.7 1023.1 L1566.0 1030.1 L1559.0 1035.4"/><path d="M1559.0 1035.4 L1551.9 1037.2 L1546.6 1044.3 L1539.5 1056.6 L1539.5 1069.0"/><path d="M1559.0 1035.4 L1569.6 1046.0 L1585.5 1056.6 L1578.4 1063.7 L1571.3 1065.5"/><path d="M1571.3 1065.5 L1560.7 1081.4 L1562.5 1090.2"/><path d="M1571.3 1065.5 L1583.7 1072.6 L1592.6 1081.4 L1591.7 1095.5 L1589.0 1102.6 L1597.9 1123.8"/><path d="M1594.3 1090.2 L1610.2 1081.4 L1636.7 1076.1"/><path d="M1734.4 598.7 L1746.3 603.8 L1760.0 605.5"/></g><ellipse cx="1423" cy="1287" rx="3.5" ry="2.3" transform="rotate(35 1423 1287)" fill="#6c2630"/></g>
<text x="1667" y="400" class="lw">FI</text><text x="1475" y="525" class="lb">SE</text><text x="1683" y="532" class="lb">EE</text><text x="1677" y="589" class="lb">LV</text><text x="1653" y="643" class="lw">LT</text><text x="1374" y="613" class="lb">DK</text><text x="1018" y="618" class="lb">IE</text><text x="1279" y="715" class="lb">NL</text><text x="1366" y="745" class="lb">DE</text><text x="1248" y="769" class="lw">BE</text><text x="1282" y="807" class="lb">LU</text><text x="1564" y="754" class="lw">PL</text><text x="1469" y="828" class="lb">CZ</text><text x="1179" y="864" class="lb">FR</text><text x="1566" y="868" class="lb">SK</text><text x="1444" y="891" class="lw">AT</text><text x="1558" y="924" class="lw">HU</text><text x="1461" y="950" class="lb">SI</text><text x="1497" y="970" class="lw">HR</text><text x="1693" y="962" class="lw">RO</text><text x="1369" y="1020" class="lw">IT</text><text x="854" y="1046" class="lw">PT</text><text x="975" y="1068" class="lb">ES</text><text x="1707" y="1068" class="lb">BG</text><text x="1627" y="1179" class="lw">EL</text><text x="1420" y="1314" class="lb">MT</text><text x="1969" y="1310" class="lb">CY</text>
<circle cx="115.3" cy="135.9" r="3.5" fill="#eea6c6"/><circle cx="84.4" cy="106.5" r="3" fill="#a9d9c4"/><circle cx="84.7" cy="123.2" r="1.2" fill="#a9d9c4"/><circle cx="129.4" cy="106.3" r="3.5" fill="#f3b6d0"/><circle cx="76.9" cy="134.3" r="1.5" fill="#5fb8a5"/><circle cx="116.0" cy="129.7" r="2" fill="#eea6c6"/><circle cx="118.2" cy="122.7" r="1.5" fill="#3fb3c4"/><circle cx="90.5" cy="140.7" r="3" fill="#8ccfe6"/><circle cx="101.3" cy="141.3" r="1.5" fill="#bfe3c8"/><circle cx="131.4" cy="133.2" r="2" fill="#f6c8dc"/><circle cx="93.0" cy="148.8" r="1.2" fill="#5fb8a5"/><circle cx="80.6" cy="117.4" r="1.2" fill="#bfe3c8"/><circle cx="86.5" cy="150.2" r="3.5" fill="#cfe6a8"/><circle cx="74.1" cy="101.2" r="2.5" fill="#5fb8a5"/><circle cx="81.0" cy="89.5" r="3.5" fill="#7cc39a"/><circle cx="95.3" cy="89.3" r="3.5" fill="#cfe6a8"/><circle cx="70.0" cy="117.2" r="1.5" fill="#7cc39a"/><circle cx="119.0" cy="97.2" r="1.2" fill="#a9d9c4"/><circle cx="75.0" cy="107.6" r="1.5" fill="#7cc39a"/><circle cx="84.2" cy="136.6" r="2.5" fill="#a9d9c4"/><circle cx="133.1" cy="118.4" r="4.5" fill="#f6c8dc"/><circle cx="121.8" cy="131.9" r="3.5" fill="#f3b6d0"/><circle cx="105.8" cy="133.9" r="1.5" fill="#5fb8a5"/><circle cx="124.5" cy="124.1" r="1.2" fill="#eea6c6"/><circle cx="88.3" cy="130.6" r="1.2" fill="#5fb8a5"/><circle cx="73.0" cy="91.6" r="1.5" fill="#bfe3c8"/><circle cx="68.3" cy="112.6" r="1.5" fill="#3fb3c4"/><circle cx="88.8" cy="81.2" r="2" fill="#3fb3c4"/><circle cx="102.8" cy="80.9" r="1.5" fill="#7cc39a"/><circle cx="78.9" cy="113.5" r="2" fill="#bfe3c8"/><circle cx="110.7" cy="142.1" r="3" fill="#cfe6a8"/><circle cx="75.3" cy="145.3" r="1.5" fill="#5fb8a5"/><circle cx="108.3" cy="137.0" r="1.5" fill="#8ccfe6"/><circle cx="126.4" cy="97.6" r="4.5" fill="#5fb8a5"/><circle cx="117.1" cy="88.6" r="1.2" fill="#8ccfe6"/><circle cx="66.7" cy="131.1" r="3.5" fill="#cfe6a8"/><circle cx="118.9" cy="109.7" r="3.5" fill="#8ccfe6"/><circle cx="110.4" cy="97.9" r="2.5" fill="#bfe3c8"/><circle cx="120.9" cy="117.8" r="3.5" fill="#eea6c6"/><circle cx="122.9" cy="142.3" r="4.5" fill="#f3b6d0"/><circle cx="106.0" cy="85.4" r="1.5" fill="#a9d9c4"/><circle cx="135.6" cy="130.6" r="2" fill="#eea6c6"/><circle cx="135.7" cy="102.8" r="2" fill="#a9d9c4"/><circle cx="108.5" cy="154.5" r="1.2" fill="#8ccfe6"/><circle cx="120.3" cy="103.0" r="1.5" fill="#cfe6a8"/><circle cx="116.9" cy="81.5" r="2" fill="#8ccfe6"/><circle cx="94.1" cy="99.0" r="2.5" fill="#5fb8a5"/><circle cx="99.0" cy="138.0" r="1.2" fill="#8ccfe6"/><circle cx="96.7" cy="154.1" r="1.5" fill="#5fb8a5"/><circle cx="103.1" cy="145.0" r="1.2" fill="#a9d9c4"/><circle cx="121.6" cy="82.2" r="1.2" fill="#5fb8a5"/><circle cx="90.2" cy="87.2" r="1.2" fill="#8ccfe6"/><circle cx="75.5" cy="120.1" r="3" fill="#bfe3c8"/><circle cx="84.6" cy="98.6" r="1.2" fill="#3fb3c4"/><circle cx="124.6" cy="84.9" r="1.5" fill="#bfe3c8"/><circle cx="109.0" cy="79.3" r="3" fill="#8ccfe6"/><circle cx="94.7" cy="82.0" r="2.5" fill="#a9d9c4"/><circle cx="99.5" cy="97.5" r="2" fill="#7cc39a"/><circle cx="105.2" cy="150.1" r="3.5" fill="#8ccfe6"/><circle cx="92.2" cy="152.9" r="1.2" fill="#3fb3c4"/><circle cx="132.9" cy="139.0" r="1.5" fill="#f6c8dc"/><circle cx="91.3" cy="133.3" r="2" fill="#7cc39a"/><circle cx="81.1" cy="130.8" r="1.5" fill="#bfe3c8"/><circle cx="121.9" cy="88.7" r="2" fill="#5fb8a5"/><circle cx="110.3" cy="92.3" r="1.5" fill="#5fb8a5"/><circle cx="61.8" cy="118.5" r="1.2" fill="#8ccfe6"/><circle cx="137.1" cy="109.6" r="1.5" fill="#f3b6d0"/><circle cx="104.2" cy="97.3" r="1.2" fill="#7cc39a"/><circle cx="90.4" cy="146.0" r="1.5" fill="#bfe3c8"/><circle cx="106.8" cy="93.7" r="1.2" fill="#5fb8a5"/><circle cx="77.0" cy="85.2" r="1.5" fill="#8ccfe6"/><circle cx="90.0" cy="91.7" r="1.5" fill="#5fb8a5"/><circle cx="85.0" cy="128.6" r="1.5" fill="#5fb8a5"/><circle cx="130.4" cy="89.6" r="1.2" fill="#cfe6a8"/><circle cx="111.7" cy="148.3" r="1.5" fill="#a9d9c4"/><circle cx="137.8" cy="125.5" r="2" fill="#f3b6d0"/><circle cx="128.3" cy="127.5" r="1.2" fill="#eea6c6"/><circle cx="97.9" cy="77.8" r="1.5" fill="#a9d9c4"/><circle cx="103.3" cy="90.8" r="2.5" fill="#a9d9c4"/><circle cx="79.5" cy="97.7" r="1.2" fill="#5fb8a5"/><circle cx="72.4" cy="136.2" r="2" fill="#5fb8a5"/><circle cx="117.3" cy="147.8" r="2" fill="#5fb8a5"/><circle cx="77.4" cy="125.9" r="2.5" fill="#5fb8a5"/><circle cx="68.8" cy="99.7" r="2" fill="#a9d9c4"/><circle cx="74.3" cy="112.0" r="2" fill="#7cc39a"/><circle cx="82.5" cy="142.0" r="2" fill="#3fb3c4"/><circle cx="70.6" cy="125.1" r="2" fill="#cfe6a8"/><circle cx="86.7" cy="95.2" r="2" fill="#8ccfe6"/><circle cx="98.3" cy="145.6" r="1.5" fill="#7cc39a"/><circle cx="80.2" cy="146.7" r="1.5" fill="#bfe3c8"/><circle cx="113.0" cy="103.5" r="1.5" fill="#7cc39a"/><circle cx="74.7" cy="96.5" r="1.5" fill="#7cc39a"/><circle cx="138.4" cy="114.3" r="1.5" fill="#eea6c6"/><circle cx="83.9" cy="81.4" r="2" fill="#3fb3c4"/><circle cx="102.5" cy="85.4" r="1.2" fill="#8ccfe6"/><circle cx="64.2" cy="123.5" r="1.5" fill="#7cc39a"/><circle cx="69.4" cy="105.0" r="1.5" fill="#8ccfe6"/><circle cx="116.7" cy="91.7" r="1.2" fill="#3fb3c4"/><circle cx="127.6" cy="138.0" r="1.2" fill="#f3b6d0"/><circle cx="112.5" cy="86.6" r="1.2" fill="#5fb8a5"/><circle cx="124.2" cy="104.0" r="1.5" fill="#f3b6d0"/><circle cx="63.6" cy="112.6" r="1.5" fill="#3fb3c4"/><circle cx="116.2" cy="100.3" r="1.2" fill="#bfe3c8"/><circle cx="104.6" cy="139.9" r="1.5" fill="#7cc39a"/><circle cx="130.6" cy="125.1" r="1.5" fill="#f3b6d0"/><circle cx="100.2" cy="152.3" r="1.2" fill="#5fb8a5"/><circle cx="85.4" cy="132.1" r="1.2" fill="#bfe3c8"/><circle cx="77.0" cy="138.3" r="1.5" fill="#3fb3c4"/><circle cx="125.6" cy="90.7" r="1.5" fill="#bfe3c8"/><circle cx="98.9" cy="133.2" r="1.2" fill="#a9d9c4"/><circle cx="124.9" cy="111.7" r="1.2" fill="#eea6c6"/><circle cx="79.8" cy="109.7" r="1.2" fill="#a9d9c4"/><circle cx="71.3" cy="108.2" r="1.2" fill="#a9d9c4"/><circle cx="89.4" cy="100.7" r="1.5" fill="#8ccfe6"/><circle cx="102.4" cy="135.4" r="1.5" fill="#8ccfe6"/><circle cx="83.3" cy="112.3" r="1.5" fill="#a9d9c4"/><circle cx="64.4" cy="108.0" r="1.2" fill="#7cc39a"/><circle cx="133.9" cy="98.2" r="2" fill="#f3b6d0"/><circle cx="68.1" cy="108.5" r="1.2" fill="#cfe6a8"/><circle cx="102.4" cy="76.6" r="1.2" fill="#8ccfe6"/><circle cx="114.8" cy="152.6" r="1.2" fill="#3fb3c4"/><circle cx="111.1" cy="152.9" r="1.2" fill="#3fb3c4"/><circle cx="94.0" cy="77.2" r="1.2" fill="#bfe3c8"/><circle cx="73.6" cy="129.5" r="1.2" fill="#5fb8a5"/><circle cx="99.9" cy="83.3" r="1.5" fill="#bfe3c8"/><circle cx="115.7" cy="96.2" r="1.2" fill="#8ccfe6"/><circle cx="115.2" cy="125.5" r="1.2" fill="#5fb8a5"/><circle cx="109.5" cy="132.5" r="1.5" fill="#cfe6a8"/><circle cx="78.4" cy="103.8" r="1.5" fill="#cfe6a8"/><circle cx="80.8" cy="100.7" r="1.5" fill="#8ccfe6"/><circle cx="77.4" cy="130.7" r="1.5" fill="#bfe3c8"/><circle cx="138.4" cy="105.6" r="1.2" fill="#eea6c6"/><circle cx="130.1" cy="142.7" r="1.5" fill="#f3b6d0"/><circle cx="77.6" cy="142.1" r="1.2" fill="#bfe3c8"/><circle cx="128.4" cy="114.0" r="1.2" fill="#eea6c6"/><circle cx="87.0" cy="89.2" r="1.5" fill="#cfe6a8"/><circle cx="109.1" cy="88.8" r="1.2" fill="#a9d9c4"/><circle cx="96.9" cy="141.2" r="1.5" fill="#a9d9c4"/><circle cx="118.7" cy="94.0" r="1.2" fill="#a9d9c4"/><circle cx="77.2" cy="93.2" r="1.2" fill="#cfe6a8"/><circle cx="81.6" cy="121.1" r="1.2" fill="#5fb8a5"/><circle cx="70.1" cy="94.6" r="1.2" fill="#7cc39a"/><circle cx="65.1" cy="102.8" r="2" fill="#3fb3c4"/><circle cx="122.3" cy="149.1" r="1.2" fill="#eea6c6"/><circle cx="95.6" cy="134.4" r="1.2" fill="#8ccfe6"/><circle cx="87.1" cy="84.7" r="1.2" fill="#8ccfe6"/><circle cx="98.5" cy="93.7" r="1.2" fill="#8ccfe6"/><circle cx="126.5" cy="116.5" r="1.2" fill="#f3b6d0"/><circle cx="116.6" cy="103.9" r="1.5" fill="#a9d9c4"/><circle cx="102.0" cy="155.7" r="1.2" fill="#a9d9c4"/><circle cx="69.0" cy="120.4" r="1.2" fill="#a9d9c4"/><circle cx="131.8" cy="92.8" r="1.2" fill="#5fb8a5"/><circle cx="99.2" cy="149.2" r="1.2" fill="#5fb8a5"/><circle cx="109.5" cy="84.9" r="1.2" fill="#3fb3c4"/><circle cx="65.8" cy="116.2" r="1.2" fill="#cfe6a8"/><circle cx="81.7" cy="125.2" r="1.2" fill="#bfe3c8"/><circle cx="94.2" cy="144.6" r="1.5" fill="#cfe6a8"/><circle cx="83.6" cy="115.8" r="1.2" fill="#a9d9c4"/><circle cx="135.2" cy="135.2" r="1.2" fill="#f3b6d0"/><circle cx="95.3" cy="150.7" r="1.2" fill="#8ccfe6"/><circle cx="67.8" cy="137.9" r="1.2" fill="#bfe3c8"/><circle cx="133.4" cy="111.5" r="1.2" fill="#f3b6d0"/><circle cx="124.1" cy="107.9" r="1.2" fill="#f3b6d0"/><circle cx="95.6" cy="94.7" r="1.2" fill="#7cc39a"/><circle cx="125.9" cy="120.0" r="1.2" fill="#5fb8a5"/><circle cx="88.5" cy="127.5" r="1.2" fill="#8ccfe6"/><circle cx="115.7" cy="144.0" r="1.2" fill="#a9d9c4"/><circle cx="72.5" cy="143.3" r="1.2" fill="#3fb3c4"/><circle cx="131.1" cy="129.0" r="1.2" fill="#eea6c6"/><circle cx="121.5" cy="123.2" r="1.2" fill="#eea6c6"/><circle cx="73.9" cy="140.4" r="1.2" fill="#7cc39a"/><circle cx="133.8" cy="127.2" r="1.2" fill="#f6c8dc"/><circle cx="94.6" cy="137.7" r="1.2" fill="#7cc39a"/><circle cx="140.2" cy="119.0" r="1.2" fill="#f3b6d0"/><circle cx="128.2" cy="86.9" r="1.2" fill="#3fb3c4"/><circle cx="81.7" cy="95.6" r="1.2" fill="#a9d9c4"/><circle cx="111.9" cy="129.1" r="1.2" fill="#cfe6a8"/><circle cx="127.6" cy="135.0" r="1.2" fill="#f3b6d0"/><circle cx="72.8" cy="88.3" r="1.2" fill="#5fb8a5"/><circle cx="86.3" cy="144.1" r="1.2" fill="#cfe6a8"/><circle cx="112.7" cy="83.1" r="1.5" fill="#bfe3c8"/><circle cx="92.1" cy="94.5" r="1.2" fill="#3fb3c4"/><circle cx="113.7" cy="93.4" r="1.5" fill="#3fb3c4"/><circle cx="80.2" cy="84.0" r="1.2" fill="#7cc39a"/><circle cx="140.5" cy="111.4" r="1.2" fill="#f3b6d0"/>
<rect x="124" y="375.00" width="363" height="33.33" fill="#fff"/><rect x="124" y="441.67" width="363" height="33.33" fill="#fff"/><rect x="124" y="508.33" width="363" height="33.33" fill="#fff"/><rect x="124" y="575.00" width="363" height="33.33" fill="#fff"/><rect x="124" y="641.67" width="363" height="33.33" fill="#fff"/><rect x="124" y="708.33" width="363" height="33.33" fill="#fff"/><rect x="124" y="775.00" width="363" height="33.33" fill="#fff"/><rect x="124" y="841.67" width="363" height="33.33" fill="#fff"/><rect x="124" y="908.33" width="363" height="33.33" fill="#fff"/><rect x="124" y="975.00" width="363" height="33.33" fill="#fff"/><rect x="124" y="1041.67" width="363" height="33.33" fill="#fff"/><rect x="124" y="1108.33" width="363" height="33.33" fill="#fff"/><rect x="124" y="1175.00" width="363" height="33.33" fill="#fff"/><rect x="124" y="1241.67" width="363" height="33.33" fill="#fff"/><rect x="59" y="375.00" width="65.3" height="100.00" fill="#5c0002"/><rect x="59" y="475.00" width="65.3" height="200.00" fill="#b5272f"/><rect x="59" y="675.00" width="65.3" height="433.33" fill="#acd591"/><rect x="59" y="1108.33" width="65.3" height="166.67" fill="#4e9c8c"/>
<path d="M631 895 L626 934 C625 962 640 986 668 999" fill="none" stroke="#b3e1f0" stroke-width="27" stroke-linecap="round"/><circle cx="698.6" cy="941.7" r="36" fill="#b3e1f0"/><path d="M693.4 1120 L675 1265 A19.5 19.5 0 0 1 636 1262 L656 1100 L656 1006.8 L672.3 986.7 L731.7 986.7 C758 990 776 1030 776.7 1071.9 L777.6 1125.5 A13 13 0 0 1 751.8 1125.5 L750.8 1071.9 C750 1055 746 1035 742.2 1026.9 L742.2 1100 L762 1262 A19.5 19.5 0 0 1 723 1265 L704.9 1120 Z" fill="#b3e1f0"/><circle cx="612.5" cy="1066.8" r="57.7" fill="#4f3e69"/>
<rect x="534" y="566" width="109" height="141.5" rx="9" fill="#5c0002"/><path d="M563 532 L614.5 532 L614.5 542.9 L632 567 L545 567 L563 542.9Z" fill="#5c0002"/><rect x="550" y="500" width="77" height="33" rx="8" fill="#5c0002"/><rect x="658" y="613" width="73" height="94.5" rx="7" fill="#b5272f"/><path d="M678 589 L712 589 L712 596.9 L723 614 L666 614 L678 596.9Z" fill="#b5272f"/><rect x="669" y="568" width="51" height="22" rx="5" fill="#b5272f"/><rect x="746" y="644" width="49" height="63.5" rx="5" fill="#acd591"/><path d="M760.4 627.5 L781 627.5 L781 633.1 L790 645 L751 645 L760.4 633.1Z" fill="#acd591"/><rect x="753.6" y="614" width="34.39999999999998" height="14.5" rx="4" fill="#acd591"/><rect x="810" y="665" width="33" height="42.5" rx="4" fill="#4e9c8c"/><path d="M817.5 654 L835.7 654 L835.7 658.0 L840 666 L813 666 L817.5 658.0Z" fill="#4e9c8c"/><rect x="815" y="645" width="23" height="10" rx="3" fill="#4e9c8c"/><rect x="602" y="819" width="64" height="82" rx="6" fill="#8a72b3"/><path d="M618 797 L649 797 L649 804.3 L661 820 L607 820 L618 804.3Z" fill="#8a72b3"/><rect x="611.6" y="779" width="44.89999999999998" height="19" rx="5" fill="#8a72b3"/>
<g font-weight="bold">
<text transform="translate(596 486) rotate(-90)" fill="#5c0002"><tspan font-size="25.5">10+</tspan><tspan font-size="18">kg</tspan></text>
<text transform="translate(705 554) rotate(-90)" fill="#b5272f"><tspan font-size="27">5-10</tspan><tspan font-size="19">kg</tspan></text>
<text transform="translate(777 604) rotate(-90)" fill="#acd591"><tspan font-size="27">1-5</tspan><tspan font-size="19">kg</tspan></text>
<text transform="translate(838 636) rotate(-90)" fill="#4e9c8c"><tspan font-size="27">0-1</tspan><tspan font-size="19">kg</tspan></text>
</g>
<text transform="translate(1005.3 84) scale(1 1.09)" font-size="39.9" font-weight="bold" fill="#000" text-anchor="middle" stroke="#000" stroke-width="0.6">WHAT IS THE EXTRA EFFORT REQUIRED</text><text transform="translate(1005.2 134) scale(1 1.09)" font-size="40.6" font-weight="bold" fill="#000" text-anchor="middle" stroke="#000" stroke-width="0.6">FOR EVERY INHABITANT IN THE EU TO ACHIEVE</text><text transform="translate(1005.2 183.7) scale(1 1.09)" font-size="39.9" font-weight="bold" fill="#52a08f" text-anchor="middle" stroke="#52a08f" stroke-width="0.6">A 90% GLASS COLLECTION FOR RECYCLING RATE?</text><text transform="translate(155.5 105) scale(1 1.14)" font-size="36.1" font-weight="bold" fill="#000" text-anchor="start" stroke="#000" stroke-width="0.7">close the</text><text transform="translate(155 148) scale(1 1.14)" font-size="35.8" font-weight="bold" fill="#000" text-anchor="start" stroke="#000" stroke-width="0.7">glass loop</text><text transform="translate(59.5 297) scale(1 1.12)" font-size="27.4" font-weight="bold" fill="#000" text-anchor="start">Amount of glass packaging to be collected to achieve</text><text transform="translate(59.5 329.7) scale(1 1.12)" font-size="27.6" font-weight="bold" fill="#000" text-anchor="start">90% glass collection for recycling rate in 2023 (kg per capita)</text><text transform="translate(137 399.2) scale(1 1.04)" font-size="20.6" font-weight="normal" fill="#000" text-anchor="start">Malta</text><text transform="translate(405 399.2) scale(1 1.04)" font-size="20.5" font-weight="bold" fill="#000" text-anchor="middle">15,49</text><text transform="translate(137 432.54) scale(1 1.04)" font-size="20.6" font-weight="normal" fill="#000" text-anchor="start">Portugal</text><text transform="translate(405 432.54) scale(1 1.04)" font-size="20.5" font-weight="bold" fill="#000" text-anchor="middle">13,89</text><text transform="translate(137 465.88) scale(1 1.04)" font-size="20.6" font-weight="normal" fill="#000" text-anchor="start">Hungary</text><text transform="translate(405 465.88) scale(1 1.04)" font-size="20.5" font-weight="bold" fill="#000" text-anchor="middle">11,01</text><text transform="translate(137 499.22) scale(1 1.04)" font-size="20.6" font-weight="normal" fill="#000" text-anchor="start">Cyprus</text><text transform="translate(405 499.22) scale(1 1.04)" font-size="20.5" font-weight="bold" fill="#000" text-anchor="middle">8,98</text><text transform="translate(137 532.56) scale(1 1.04)" font-size="20.6" font-weight="normal" fill="#000" text-anchor="start">Poland</text><text transform="translate(405 532.56) scale(1 1.04)" font-size="20.5" font-weight="bold" fill="#000" text-anchor="middle">7,39</text><text transform="translate(137 565.9) scale(1 1.04)" font-size="20.6" font-weight="normal" fill="#000" text-anchor="start">Lithuania</text><text transform="translate(405 565.9) scale(1 1.04)" font-size="20.5" font-weight="bold" fill="#000" text-anchor="middle">6,04</text><text transform="translate(137 599.24) scale(1 1.04)" font-size="20.6" font-weight="normal" fill="#000" text-anchor="start">Croatia</text><text transform="translate(405 599.24) scale(1 1.04)" font-size="20.5" font-weight="bold" fill="#000" text-anchor="middle">5,81</text><text transform="translate(137 632.58) scale(1 1.04)" font-size="20.6" font-weight="normal" fill="#000" text-anchor="start">Greece</text><text transform="translate(405 632.58) scale(1 1.04)" font-size="20.5" font-weight="bold" fill="#000" text-anchor="middle">5,70</text><text transform="translate(137 665.92) scale(1 1.04)" font-size="20.6" font-weight="normal" fill="#000" text-anchor="start">Romania</text><text transform="translate(405 665.92) scale(1 1.04)" font-size="20.5" font-weight="bold" fill="#000" text-anchor="middle">5,18</text><text transform="translate(137 699.26) scale(1 1.04)" font-size="20.6" font-weight="normal" fill="#000" text-anchor="start">Spain</text><text transform="translate(405 699.26) scale(1 1.04)" font-size="20.5" font-weight="bold" fill="#000" text-anchor="middle">4,39</text><text transform="translate(137 732.6) scale(1 1.04)" font-size="20.6" font-weight="normal" fill="#000" text-anchor="start">Estonia</text><text transform="translate(405 732.6) scale(1 1.04)" font-size="20.5" font-weight="bold" fill="#000" text-anchor="middle">3,88</text><text transform="translate(137 765.94) scale(1 1.04)" font-size="20.6" font-weight="normal" fill="#000" text-anchor="start">Latvia</text><text transform="translate(405 765.94) scale(1 1.04)" font-size="20.5" font-weight="bold" fill="#000" text-anchor="middle">3,10</text><text transform="translate(137 799.28) scale(1 1.04)" font-size="20.6" font-weight="normal" fill="#000" text-anchor="start">Bulgaria</text><text transform="translate(405 799.28) scale(1 1.04)" font-size="20.5" font-weight="bold" fill="#000" text-anchor="middle">2,77</text><text transform="translate(137 832.62) scale(1 1.04)" font-size="20.6" font-weight="normal" fill="#000" text-anchor="start">Netherlands</text><text transform="translate(405 832.62) scale(1 1.04)" font-size="20.5" font-weight="bold" fill="#000" text-anchor="middle">2,64</text><text transform="translate(137 865.96) scale(1 1.04)" font-size="20.6" font-weight="normal" fill="#000" text-anchor="start">France</text><text transform="translate(405 865.96) scale(1 1.04)" font-size="20.5" font-weight="bold" fill="#000" text-anchor="middle">2,53</text><text transform="translate(137 899.3) scale(1 1.04)" font-size="20.6" font-weight="normal" fill="#000" text-anchor="start">Slovenia</text><text transform="translate(405 899.3) scale(1 1.04)" font-size="20.5" font-weight="bold" fill="#000" text-anchor="middle">2,21</text><text transform="translate(137 932.64) scale(1 1.04)" font-size="20.6" font-weight="normal" fill="#000" text-anchor="start">Ireland</text><text transform="translate(405 932.64) scale(1 1.04)" font-size="20.5" font-weight="bold" fill="#000" text-anchor="middle">2,07</text><text transform="translate(137 965.98) scale(1 1.04)" font-size="20.6" font-weight="normal" fill="#000" text-anchor="start">Slovakia</text><text transform="translate(405 965.98) scale(1 1.04)" font-size="20.5" font-weight="bold" fill="#000" text-anchor="middle">2,04</text><text transform="translate(137 999.32) scale(1 1.04)" font-size="20.6" font-weight="normal" fill="#000" text-anchor="start">Czechia</text><text transform="translate(405 999.32) scale(1 1.04)" font-size="20.5" font-weight="bold" fill="#000" text-anchor="middle">1,86</text><text transform="translate(137 1032.66) scale(1 1.04)" font-size="20.6" font-weight="normal" fill="#000" text-anchor="start">Germany</text><text transform="translate(405 1032.66) scale(1 1.04)" font-size="20.5" font-weight="bold" fill="#000" text-anchor="middle">1,66</text><text transform="translate(137 1066.0) scale(1 1.04)" font-size="20.6" font-weight="normal" fill="#000" text-anchor="start">Denmark</text><text transform="translate(405 1066.0) scale(1 1.04)" font-size="20.5" font-weight="bold" fill="#000" text-anchor="middle">1,22</text><text transform="translate(137 1099.34) scale(1 1.04)" font-size="20.6" font-weight="normal" fill="#000" text-anchor="start">Sweden</text><text transform="translate(405 1099.34) scale(1 1.04)" font-size="20.5" font-weight="bold" fill="#000" text-anchor="middle">1,06</text><text transform="translate(137 1132.68) scale(1 1.04)" font-size="20.6" font-weight="normal" fill="#000" text-anchor="start">Austria</text><text transform="translate(405 1132.68) scale(1 1.04)" font-size="20.5" font-weight="bold" fill="#000" text-anchor="middle">0,96</text><text transform="translate(137 1166.02) scale(1 1.04)" font-size="20.6" font-weight="normal" fill="#000" text-anchor="start">Belgium</text><text transform="translate(405 1166.02) scale(1 1.04)" font-size="20.5" font-weight="bold" fill="#000" text-anchor="middle">0,00</text><text transform="translate(137 1199.36) scale(1 1.04)" font-size="20.6" font-weight="normal" fill="#000" text-anchor="start">Finland</text><text transform="translate(405 1199.36) scale(1 1.04)" font-size="20.5" font-weight="bold" fill="#000" text-anchor="middle">0,00</text><text transform="translate(137 1232.7) scale(1 1.04)" font-size="20.6" font-weight="normal" fill="#000" text-anchor="start">Italy</text><text transform="translate(405 1232.7) scale(1 1.04)" font-size="20.5" font-weight="bold" fill="#000" text-anchor="middle">0,00</text><text transform="translate(137 1266.04) scale(1 1.04)" font-size="20.6" font-weight="normal" fill="#000" text-anchor="start">Luxembourg</text><text transform="translate(405 1266.04) scale(1 1.04)" font-size="20.5" font-weight="bold" fill="#000" text-anchor="middle">0,00</text><text transform="translate(59.3 1312) scale(1 1.05)" font-size="17.7" font-weight="normal" fill="#1a1a1a" text-anchor="start">Sources: Eurostat population data for 2023 and CGL glass collection for recycling data</text><text transform="translate(609 1063.7) scale(1 1.0)" font-size="19.5" font-weight="normal" fill="#fff" text-anchor="middle">EU</text><text transform="translate(609 1084.7) scale(1 1.0)" font-size="19.5" font-weight="normal" fill="#fff" text-anchor="middle">average</text><text transform="translate(732.2 868.7) scale(1 1.0)" font-size="50.4" font-weight="bold" fill="#8a72b4" text-anchor="middle">4,14</text><text transform="translate(732.6 890.8) scale(1 1.0)" font-size="13.7" font-weight="bold" fill="#8a72b4" text-anchor="middle">kg/capita</text>
</svg>
</body></html>
